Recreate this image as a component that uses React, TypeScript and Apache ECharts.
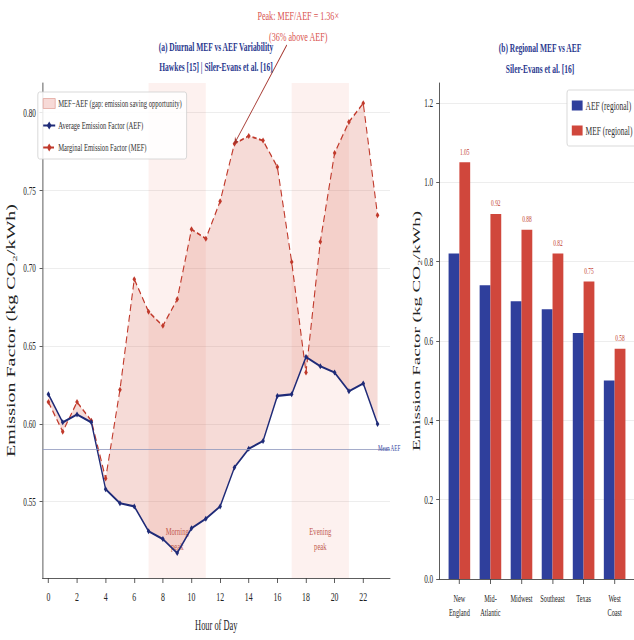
import React, { useEffect, useRef } from 'react';
import * as echarts from 'echarts';

// ---- data ----
const HOURS = [0, 1, 2, 3, 4, 5, 6, 7, 8, 9, 10, 11, 12, 13, 14, 15, 16, 17, 18, 19, 20, 21, 22, 23];
const AEF = [0.619, 0.601, 0.606, 0.601, 0.558, 0.549, 0.547, 0.531, 0.526, 0.517, 0.533, 0.539, 0.547, 0.572, 0.584, 0.589, 0.618, 0.619, 0.643, 0.637, 0.633, 0.621, 0.626, 0.600];
const MEF = [0.614, 0.595, 0.614, 0.602, 0.565, 0.622, 0.693, 0.672, 0.663, 0.680, 0.725, 0.719, 0.743, 0.780, 0.785, 0.782, 0.765, 0.704, 0.633, 0.717, 0.774, 0.794, 0.806, 0.734];
const HOUR_TICKS = [0, 2, 4, 6, 8, 10, 12, 14, 16, 18, 20, 22];
const LEFT_Y_TICKS = [0.55, 0.6, 0.65, 0.7, 0.75, 0.8];
const SPAN_START = [7, 17];
const SPAN_END = [11, 21];
const SPAN_LABELS = ['Morning\npeak', 'Evening\npeak'];

const REGIONS = ['New\nEngland', 'Mid-\nAtlantic', 'Midwest', 'Southeast', 'Texas', 'West\nCoast'];
const REGION_IDX = [0, 1, 2, 3, 4, 5];
const REGION_AEF = [0.82, 0.74, 0.70, 0.68, 0.62, 0.50];
const REGION_MEF = [1.05, 0.92, 0.88, 0.82, 0.75, 0.58];
const RIGHT_Y_TICKS = [0, 0.2, 0.4, 0.6, 0.8, 1.0, 1.2];

// ---- styling ----
const S = 0.6; // horizontal compression of the whole picture
const W = Math.round(634 / S);
const H = 640;
const FONT = "'Liberation Serif', 'Times New Roman', serif";
const NAVY = '#1f2b78';
const RED = '#c0392b';
const FILL = 'rgba(214, 90, 72, 0.22)';
const SPAN = 'rgba(231, 96, 80, 0.09)';
const TITLE = '#2b3a8f';
const BAR_BLUE = '#2f3f9c';
const BAR_RED = '#d0473c';
const FILL_NAME = 'MEF\u2212AEF (gap: emission saving opportunity)';
const AEF_NAME = 'Average Emission Factor (AEF)';
const MEF_NAME = 'Marginal Emission Factor (MEF)';

export default function App() {
  const ref = useRef<HTMLDivElement>(null);

  useEffect(() => {
    if (!ref.current) return;
    const chart = echarts.init(ref.current, null, { renderer: 'svg', width: W, height: H });

    const ratios = MEF.map((m, i) => m / AEF[i]);
    let peak = 0;
    ratios.forEach((r, i) => { if (r > ratios[peak]) peak = i; });
    const ratio = ratios[peak];
    const pct = Math.round((ratio - 1) * 100);
    const meanAEF = AEF.reduce((a, b) => a + b, 0) / AEF.length;

    const axisLine = { show: true, onZero: false, lineStyle: { color: '#333', width: 1 } };
    const tickStyle = { color: '#333', width: 1 };

    const option: any = {
      animation: false,
      textStyle: { fontFamily: FONT },
      title: [
        {
          text: '(a) Diurnal MEF vs AEF Variability\nHawkes [15] | Siler-Evans et al. [16]',
          left: 355, top: 32, textAlign: 'center',
          textStyle: { color: TITLE, fontSize: 12.5, fontWeight: 'bold', lineHeight: 20, fontFamily: FONT },
        },
        {
          text: '(b) Regional MEF vs AEF\nSiler-Evans et al. [16]',
          left: 895, top: 32, textAlign: 'center',
          textStyle: { color: TITLE, fontSize: 12.5, fontWeight: 'bold', lineHeight: 21, fontFamily: FONT },
        },
      ],
      legend: [
        {
          left: 63, top: 92, orient: 'vertical', selectedMode: false,
          data: [
            { name: FILL_NAME, icon: 'rect', itemStyle: { color: 'rgba(232, 150, 140, 0.35)', borderColor: '#e3a69e', borderWidth: 1 } },
            AEF_NAME, MEF_NAME,
          ],
          itemWidth: 20, itemHeight: 10, itemGap: 11, padding: [6, 8],
          borderColor: '#cfcfcf', borderWidth: 1, borderRadius: 3,
          backgroundColor: 'rgba(255,255,255,0.85)',
          textStyle: { fontSize: 11, color: '#333', fontFamily: FONT },
        },
        {
          left: 945, top: 90, orient: 'vertical', selectedMode: false,
          data: [{ name: 'AEF (regional)', icon: 'rect' }, { name: 'MEF (regional)', icon: 'rect' }],
          itemWidth: 18, itemHeight: 10, itemGap: 12, padding: [9, 8],
          borderColor: '#cfcfcf', borderWidth: 1, borderRadius: 3,
          backgroundColor: 'rgba(255,255,255,0.85)',
          textStyle: { fontSize: 12.5, color: '#333', fontFamily: FONT },
        },
      ],
      grid: [
        { left: 61, top: 83, width: 589, height: 495 },
        { left: 732, top: 83, width: 328, height: 496 },
      ],
      xAxis: [
        {
          gridIndex: 0, type: 'value', min: -0.41, max: 23.87,
          name: 'Hour of Day', nameLocation: 'middle', nameGap: 40,
          nameTextStyle: { fontSize: 14, color: '#222', fontFamily: FONT },
          axisLine, axisTick: { show: true, customValues: HOUR_TICKS, length: 5, lineStyle: tickStyle },
          axisLabel: { customValues: HOUR_TICKS, fontSize: 13, color: '#222', margin: 12 },
          splitLine: { show: false },
        },
        {
          gridIndex: 1, type: 'value', min: -0.65, max: 5.63,
          axisLine, axisTick: { show: true, customValues: REGION_IDX, length: 5, lineStyle: tickStyle },
          axisLabel: {
            customValues: REGION_IDX, fontSize: 10.5, lineHeight: 14, color: '#222', margin: 12,
            formatter: (v: number) => REGIONS[Math.round(v)] ?? '',
          },
          splitLine: { show: false },
        },
      ],
      yAxis: [
        {
          gridIndex: 0, type: 'value', min: 0.501, max: 0.819,
          name: 'Emission Factor (kg CO\u2082/kWh)', nameLocation: 'middle', nameGap: 36,
          nameTextStyle: { fontSize: 20, color: '#222', fontFamily: FONT },
          axisLine, axisTick: { show: true, customValues: LEFT_Y_TICKS, length: 5, lineStyle: tickStyle },
          axisLabel: { customValues: LEFT_Y_TICKS, formatter: (v: number) => v.toFixed(2), fontSize: 12, color: '#222', margin: 11 },
          splitLine: { show: true, lineStyle: { color: '#e8e8e8', width: 1 } },
        },
        {
          gridIndex: 1, type: 'value', min: 0, max: 1.25,
          name: 'Emission Factor (kg CO\u2082/kWh)', nameLocation: 'middle', nameGap: 28,
          nameTextStyle: { fontSize: 19, color: '#222', fontFamily: FONT },
          axisLine, axisTick: { show: true, customValues: RIGHT_Y_TICKS, length: 5, lineStyle: tickStyle },
          axisLabel: { customValues: RIGHT_Y_TICKS, formatter: (v: number) => v.toFixed(1), fontSize: 12, color: '#222', margin: 10 },
          splitLine: { show: true, lineStyle: { color: '#e8e8e8', width: 1 } },
        },
      ],
      series: [
        {
          type: 'custom', name: FILL_NAME, xAxisIndex: 0, yAxisIndex: 0, clip: true, z: 1,
          data: HOURS.map((h, i) => [h, AEF[i], MEF[i]]),
          encode: { x: 0, y: [1, 2] },
          itemStyle: { color: 'rgba(232, 150, 140, 0.35)' },
          renderItem: (params: any, api: any) => {
            if (params.dataIndex !== 0) return null;
            const top = HOURS.map((h, i) => api.coord([h, MEF[i]]));
            const bot = HOURS.map((h, i) => api.coord([h, AEF[i]])).reverse();
            return { type: 'polygon', shape: { points: top.concat(bot) }, style: { fill: FILL } };
          },
          markArea: {
            silent: true,
            itemStyle: { color: SPAN },
            label: {
              show: true, position: ['50%', '92%'], align: 'center', verticalAlign: 'middle',
              color: '#c25b4f', fontSize: 11, lineHeight: 15, fontFamily: FONT,
            },
            data: SPAN_START.map((a, k) => [{ xAxis: a, name: SPAN_LABELS[k] }, { xAxis: SPAN_END[k] }]),
          },
        },
        {
          type: 'line', name: AEF_NAME, xAxisIndex: 0, yAxisIndex: 0, z: 4,
          data: HOURS.map((h, i) => [h, AEF[i]]),
          symbol: 'diamond', symbolSize: 6, showSymbol: true,
          lineStyle: { color: NAVY, width: 2.2 }, itemStyle: { color: NAVY },
          markLine: {
            silent: true, symbol: 'none', precision: 4,
            lineStyle: { color: '#8e97bd', width: 1, type: 'solid' },
            label: { show: true, formatter: 'Mean AEF', position: 'end', distance: 2, offset: [-22, 0], color: '#3246a0', fontSize: 8.5, fontFamily: FONT },
            data: [{ yAxis: meanAEF }],
          },
        },
        {
          type: 'line', name: MEF_NAME, xAxisIndex: 0, yAxisIndex: 0, z: 3,
          data: HOURS.map((h, i) => [h, MEF[i]]),
          symbol: 'diamond', symbolSize: 6, showSymbol: true,
          lineStyle: { color: RED, width: 1.8, type: [7, 4] }, itemStyle: { color: RED },
          markLine: {
            silent: true, symbol: ['none', 'arrow'], symbolSize: 6, precision: 4,
            lineStyle: { color: '#a3322a', width: 1.2, type: 'solid' },
            label: { show: false },
            data: [[{ x: 478, y: 45 }, { coord: [HOURS[peak], MEF[peak]] }]],
          },
        },
        {
          type: 'bar', name: 'AEF (regional)', xAxisIndex: 1, yAxisIndex: 1,
          data: REGION_IDX.map((i) => [i, REGION_AEF[i]]),
          barWidth: 18, barGap: '0%', itemStyle: { color: BAR_BLUE },
        },
        {
          type: 'bar', name: 'MEF (regional)', xAxisIndex: 1, yAxisIndex: 1,
          data: REGION_IDX.map((i) => [i, REGION_MEF[i]]),
          barWidth: 18, barGap: '0%', itemStyle: { color: BAR_RED },
          label: {
            show: true, position: 'top', distance: 6, color: '#c0392b', fontSize: 9, fontFamily: FONT,
            formatter: (p: any) => p.value[1].toFixed(2),
          },
        },
      ],
      graphic: [
        {
          type: 'text', x: 497, y: 5, silent: true,
          style: {
            text: `Peak: MEF/AEF = ${ratio.toFixed(2)}\u00d7\n(${pct}% above AEF)`,
            align: 'center', verticalAlign: 'top', fill: '#d9534f',
            fontSize: 13.5, lineHeight: 21, fontFamily: FONT,
          },
        },
      ],
    };

    chart.setOption(option);
    return () => chart.dispose();
  }, []);

  return (
    <div
      ref={ref}
      style={{
        position: 'fixed', left: 0, top: 0, width: W, height: H,
        transform: `scaleX(${S})`, transformOrigin: '0 0', background: '#fff',
      }}
    />
  );
}
